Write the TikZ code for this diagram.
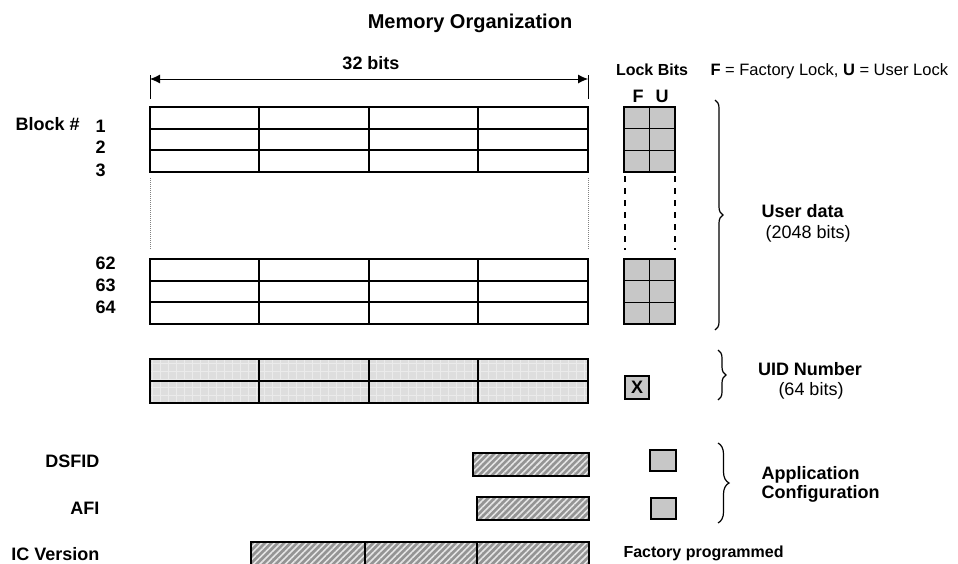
\documentclass[tikz,border=0pt]{standalone}
\usepackage{fontspec}
\setmainfont{Liberation Sans}
\usetikzlibrary{arrows.meta,decorations.pathreplacing,patterns.meta}

\tikzset{
  cell/.style={line width=1.9pt},
  lockcell/.style={line width=1.3pt,fill=black!22},
  uidcell/.style={line width=1.9pt,preaction={fill=black!13},
    preaction={pattern={Hatch[angle=0,distance=8pt,line width=0.8pt]},pattern color=white!92!black}},
  hatched/.style={line width=1.9pt,preaction={fill=black!42},
    preaction={pattern={Lines[angle=45,distance=4.5pt,line width=1.6pt]},pattern color=white!90!black}},
  bigbold/.style={font=\fontsize{18}{21}\selectfont\bfseries},
  plain/.style={font=\fontsize{18}{21}\selectfont},
  small/.style={font=\fontsize{16}{19}\selectfont\bfseries},
  bracebig/.style={decorate,decoration={brace,amplitude=8pt},line width=1.2pt},
}

\begin{document}
\begin{tikzpicture}[x=1pt,y=-1pt]
	\useasboundingbox (0,0) rectangle (958,563);
	\clip (0,0) rectangle (958,563);
	% title and width arrow
	\node[font=\fontsize{20}{24}\selectfont\bfseries,anchor=base] (title) at (470,28) {Memory Organization};
	\node[bigbold,anchor=base] (width) at (371,69) {32 bits};
	\coordinate (arrL) at (150,79);
	\coordinate (arrR) at (588,79);
	\draw[line width=0.8pt,{Latex[length=10pt,width=9pt]}-{Latex[length=10pt,width=9pt]}] (arrL) -- (arrR);
	\draw[line width=0.8pt] (150,75) -- (150,99);
	\draw[line width=0.8pt] (588,75) -- (588,99);
	% lock bits header
	\node[small,anchor=base] (lockbits) at (652,75) {Lock Bits};
	\node[font=\fontsize{16.5}{19}\selectfont,anchor=base west] (legend) at (707,75) {\textbf{F} = Factory Lock, \textbf{U} = User Lock};
	\node[bigbold,anchor=base] (fcol) at (638,102) {F};
	\node[bigbold,anchor=base] (ucol) at (662,102) {U};
	% block numbers
	\node[bigbold,anchor=base west] (blk) at (12,130) {Block \#};
	\node[bigbold,anchor=base west] (b1) at (92,132) {1};
	\node[bigbold,anchor=base west] (b2) at (92,153) {2};
	\node[bigbold,anchor=base west] (b3) at (92,176) {3};
	\node[bigbold,anchor=base west] (b62) at (92,269) {62};
	\node[bigbold,anchor=base west] (b63) at (92,291) {63};
	\node[bigbold,anchor=base west] (b64) at (92,313) {64};
	% user data blocks
	\foreach \y in {107,128.7,150.3,259,280.7,302.3}{
		\foreach \x/\xx in {150/259,259/369,369/478,478/588}
			\draw[cell] (\x,\y) rectangle (\xx,\y+21.7);
		\draw[lockcell] (624,\y) rectangle (649.5,\y+21.7);
		\draw[lockcell] (649.5,\y) rectangle (675,\y+21.7);
	}
	\draw[gray,line width=1pt,densely dotted] (150,178) -- (150,250);
	\draw[gray,line width=1pt,densely dotted] (588,178) -- (588,250);
	\draw[line width=1.8pt,dash pattern=on 6pt off 6pt] (625,176) -- (625,250);
	\draw[line width=1.8pt,dash pattern=on 6pt off 6pt] (675,176) -- (675,250);
	% UID
	\foreach \y in {359,381}{
		\foreach \x/\xx in {150/259,259/369,369/478,478/588}
			\draw[uidcell] (\x,\y) rectangle (\xx,\y+22);
	}
	\node[draw,line width=1.3pt,fill=black!22,minimum width=24pt,minimum height=23pt,inner sep=0pt,bigbold] (xlock) at (637,387.5) {X};
	% application configuration
	\node[bigbold,anchor=base east] (dsfid) at (103,467) {DSFID};
	\node[bigbold,anchor=base east] (afi) at (103,514) {AFI};
	\node[bigbold,anchor=base east] (icv) at (103,560) {IC Version};
	\draw[hatched] (473,453) rectangle (589,476);
	\draw[hatched] (477,497) rectangle (589,520);
	\draw[hatched] (251,542) rectangle (365,570);
	\draw[hatched] (365,542) rectangle (477,570);
	\draw[hatched] (477,542) rectangle (589,570);
	\draw[lockcell] (650,450) rectangle (676,471);
	\draw[lockcell] (651,498) rectangle (676,519);
	\node[small,anchor=base west] (factory) at (620,557) {Factory programmed};
	% braces
	\coordinate (userTop) at (715,100);
	\coordinate (userBot) at (715,330);
	\coordinate (uidTop) at (718,350);
	\coordinate (uidBot) at (718,400);
	\coordinate (appTop) at (718,443);
	\coordinate (appBot) at (718,523);
	\draw[bracebig] (userTop) -- (userBot);
	\draw[bracebig] (uidTop) -- (uidBot);
	\draw[bracebig,decoration={amplitude=11pt}] (appTop) -- (appBot);
	\node[bigbold,anchor=base west] (user) at (758,217) {User data};
	\node[plain,anchor=base west] (userbits) at (762,238) {(2048 bits)};
	\node[bigbold,anchor=base] (uid) at (810,375) {UID Number};
	\node[plain,anchor=base] (uidbits) at (811,395) {(64 bits)};
	\node[bigbold,anchor=base west] (app) at (758,479) {Application};
	\node[bigbold,anchor=base west] (conf) at (758,498) {Configuration};
\end{tikzpicture}
\end{document}
